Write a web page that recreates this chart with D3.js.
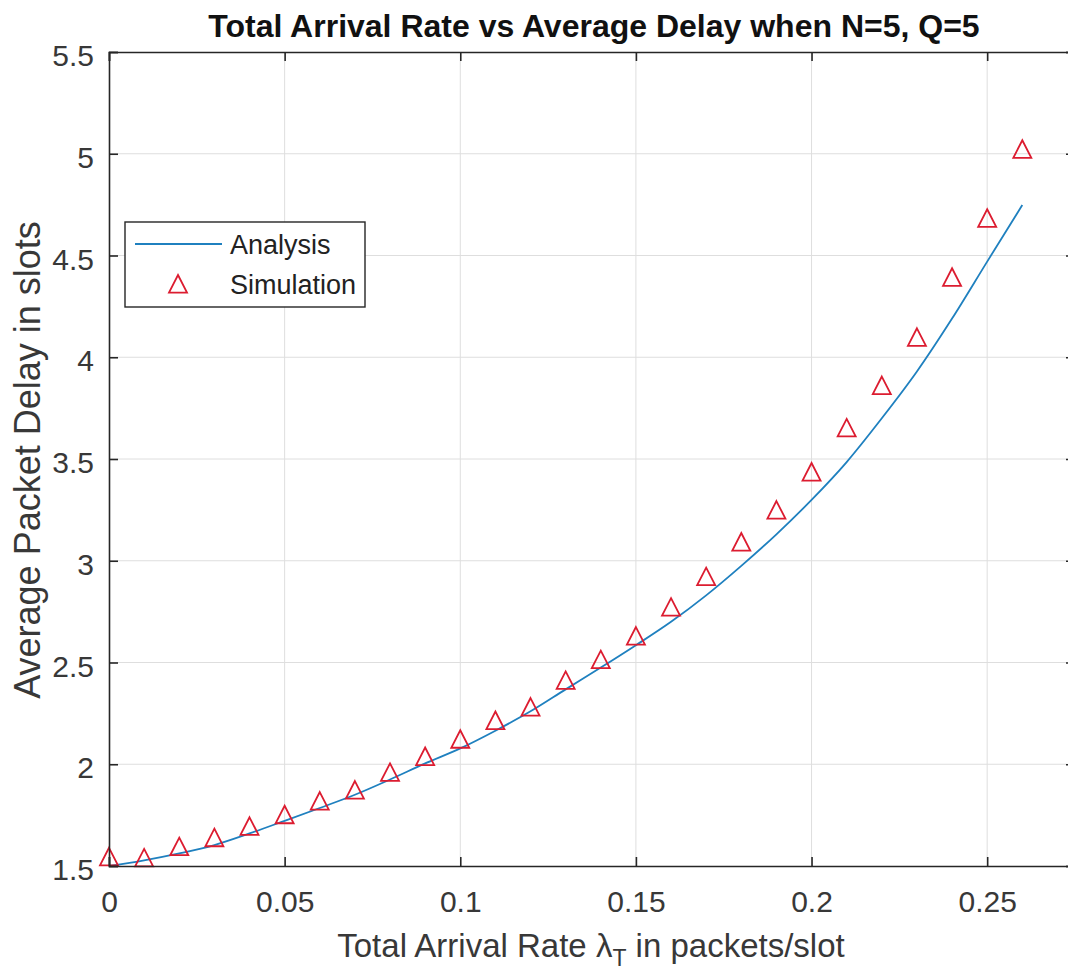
<!DOCTYPE html>
<html>
<head>
<meta charset="utf-8">
<script src="https://cdn.jsdelivr.net/npm/d3@7"></script>
<style>
  html, body { margin: 0; padding: 0; background: #fff; overflow: hidden; }
  svg { display: block; font-family: "Liberation Sans", Arial, sans-serif; }
</style>
</head>
<body>
<svg id="chart" width="1068" height="970"></svg>
<script>
// ---- data ----
const rates = [0, 0.01, 0.02, 0.03, 0.04, 0.05, 0.06, 0.07, 0.08, 0.09, 0.10, 0.11, 0.12, 0.13,
               0.14, 0.15, 0.16, 0.17, 0.18, 0.19, 0.20, 0.21, 0.22, 0.23, 0.24, 0.25, 0.26];
const analysis = [1.500, 1.528, 1.562, 1.603, 1.660, 1.722, 1.785, 1.850, 1.925, 2.004, 2.078, 2.165,
                  2.260, 2.368, 2.475, 2.585, 2.700, 2.830, 2.975, 3.130, 3.299, 3.485, 3.700, 3.930,
                  4.190, 4.470, 4.748];
const simulation = [1.545, 1.540, 1.595, 1.639, 1.695, 1.752, 1.819, 1.873, 1.960, 2.038, 2.123, 2.215,
                    2.281, 2.412, 2.514, 2.630, 2.772, 2.922, 3.092, 3.249, 3.436, 3.653, 3.861, 4.098,
                    4.393, 4.683, 5.022];
const xTicks = [0, 0.05, 0.1, 0.15, 0.2, 0.25];
const xTickLabels = ["0", "0.05", "0.1", "0.15", "0.2", "0.25"];
const yTicks = [1.5, 2, 2.5, 3, 3.5, 4, 4.5, 5, 5.5];
const yTickLabels = ["1.5", "2", "2.5", "3", "3.5", "4", "4.5", "5", "5.5"];
const seriesNames = ["Analysis", "Simulation"];
const titleText = "Total Arrival Rate vs Average Delay when N=5, Q=5";
const yLabelText = "Average Packet Delay in slots";

// ---- layout ----
const L = 109, R = 1075, T = 52, B = 866;
const axisColor = "#262626", textColor = "#383838";
const lineColor = "#1f80bf", markerColor = "#dc1c30";

const svg = d3.select("#chart");
const x = d3.scaleLinear().domain([0, 0.275]).range([L, R]);
const y = d3.scaleLinear().domain([1.5, 5.5]).range([B, T]);

// grid
const grid = svg.append("g");
grid.selectAll("line.gx").data(xTicks.slice(1)).enter().append("line")
  .attr("x1", d => x(d)).attr("x2", d => x(d)).attr("y1", T).attr("y2", B)
  .attr("stroke", "#dedede").attr("stroke-width", 1);
grid.selectAll("line.gy").data(yTicks.slice(1, -1)).enter().append("line")
  .attr("y1", d => y(d)).attr("y2", d => y(d)).attr("x1", L).attr("x2", R)
  .attr("stroke", "#dedede").attr("stroke-width", 1);

// axes (ticks inward, box on)
const tickLen = 9;
const xAxisB = d3.axisBottom(x).tickValues(xTicks).tickSize(-tickLen).tickFormat((d, i) => xTickLabels[i]).tickPadding(25);
const xAxisT = d3.axisTop(x).tickValues(xTicks).tickSize(-tickLen).tickFormat("");
const yAxisL = d3.axisLeft(y).tickValues(yTicks).tickSize(-tickLen).tickFormat((d, i) => yTickLabels[i]).tickPadding(15);
const yAxisR = d3.axisRight(y).tickValues(yTicks).tickSize(-tickLen).tickFormat("");

function styleAxis(g) {
  g.select(".domain").attr("stroke", axisColor).attr("stroke-width", 1.6);
  g.selectAll(".tick line").attr("stroke", axisColor).attr("stroke-width", 1.6);
  g.selectAll(".tick text").attr("fill", textColor).style("font-size", "30px")
    .style("font-family", "Liberation Sans, Arial, sans-serif");
}

// curve + markers
const line = d3.line().x((d, i) => x(rates[i])).y(d => y(d)).curve(d3.curveMonotoneX);
svg.append("path").datum(analysis).attr("d", line)
  .attr("fill", "none").attr("stroke", lineColor).attr("stroke-width", 1.8);

const tri = (cx, cy, s) => `M${cx},${cy - s}L${cx + s * 1.0},${cy + s * 0.95}L${cx - s * 1.0},${cy + s * 0.95}Z`;
svg.append("g").selectAll("path").data(simulation).enter().append("path")
  .attr("d", (d, i) => tri(x(rates[i]), y(d), 9))
  .attr("fill", "none").attr("stroke", markerColor).attr("stroke-width", 1.8);

svg.append("g").attr("transform", `translate(0,${B})`).call(xAxisB).call(styleAxis)
  .call(g => g.selectAll(".tick text").attr("dy", "0.71em"));
svg.append("g").attr("transform", `translate(0,${T})`).call(xAxisT).call(styleAxis);
svg.append("g").attr("transform", `translate(${L},0)`).call(yAxisL).call(styleAxis)
  .call(g => g.selectAll(".tick text").attr("dy", "0.45em"));
svg.append("g").attr("transform", `translate(${R},0)`).call(yAxisR).call(styleAxis);

// title
svg.append("text").attr("x", 594).attr("y", 37).attr("text-anchor", "middle")
  .attr("fill", "#111").style("font-size", "32px").style("font-weight", "bold")
  .text(titleText);

// x label with subscript
const xl = svg.append("text").attr("x", 591).attr("y", 957).attr("text-anchor", "middle")
  .attr("fill", textColor).style("font-size", "33px");
xl.append("tspan").text("Total Arrival Rate ");
xl.append("tspan").text("λ");
xl.append("tspan").text("T").attr("dy", 9).style("font-size", "23px");
xl.append("tspan").text(" in packets/slot").attr("dy", -9);

// y label
svg.append("text").attr("transform", `translate(40,460) rotate(-90)`)
  .attr("text-anchor", "middle").attr("fill", textColor).style("font-size", "36px")
  .text(yLabelText);

// legend
const lg = svg.append("g");
lg.append("rect").attr("x", 125).attr("y", 222).attr("width", 240).attr("height", 85)
  .attr("fill", "#fff").attr("stroke", axisColor).attr("stroke-width", 1.4);
lg.append("line").attr("x1", 135).attr("x2", 222).attr("y1", 244).attr("y2", 244)
  .attr("stroke", lineColor).attr("stroke-width", 1.8);
lg.append("path").attr("d", tri(178, 284, 9)).attr("fill", "none")
  .attr("stroke", markerColor).attr("stroke-width", 1.8);
lg.selectAll("text").data(seriesNames).enter().append("text")
  .attr("x", 230).attr("y", (d, i) => 254 + i * 40)
  .attr("fill", "#222").style("font-size", "27px").text(d => d);
</script>
</body>
</html>
